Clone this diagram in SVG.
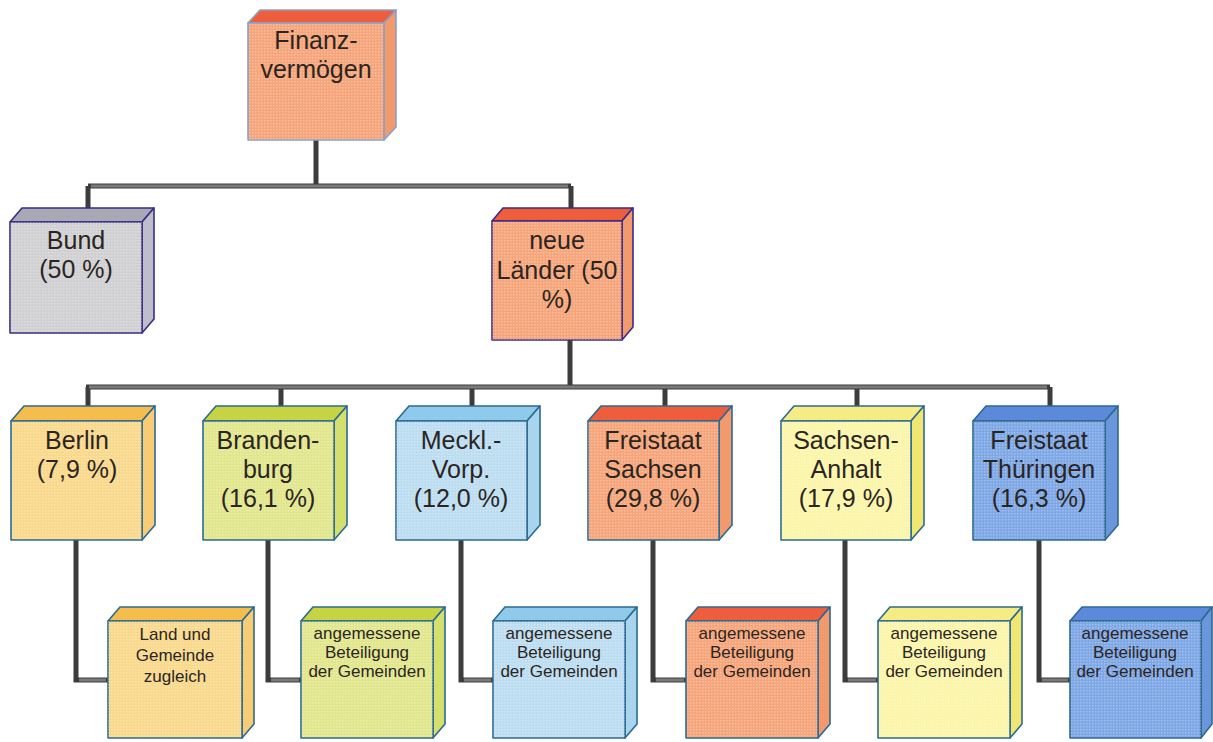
<svg xmlns="http://www.w3.org/2000/svg" width="1213" height="742" viewBox="0 0 1213 742">
<defs>
<pattern id="dots" width="3" height="3" patternUnits="userSpaceOnUse">
<rect x="0" y="0" width="1.5" height="1.5" fill="#ffffff" fill-opacity="0.28"/>
</pattern>
</defs>
<style>
text{font-family:"Liberation Sans",Arial,sans-serif;fill:#2b2522;text-anchor:middle}
.big{font-size:25px}
.small{font-size:17px}
.edge{stroke-width:1.6;stroke-linejoin:round}
.tex{fill:url(#dots);stroke:none}
.pipe{fill:none;stroke:#3c3c3c;stroke-width:5}
.core{fill:none;stroke:#7a7a7a;stroke-width:3}
.orange .f{fill:#F6A57A}.orange .t{fill:#EE5E3C}.orange .s{fill:#F29A6C}
.grey .f{fill:#D0D0D2}.grey .t{fill:#A9A9B6}.grey .s{fill:#BDBDCB}
.yellow .f{fill:#F9D88C}.yellow .t{fill:#F5BD4C}.yellow .s{fill:#F7CC74}
.green .f{fill:#E1E68C}.green .t{fill:#C6D444}.green .s{fill:#D5DF6E}
.blue .f{fill:#BCDDF1}.blue .t{fill:#8FCAEB}.blue .s{fill:#A9D4EE}
.lemon .f{fill:#FBF5AA}.lemon .t{fill:#F5EC84}.lemon .s{fill:#F2E672}
.royal .f{fill:#7EA7E6}.royal .t{fill:#5C89D9}.royal .s{fill:#6C96DC}
.pur .edge{stroke:#3b2d86}
.teal .edge{stroke:#2c6a92}
.lite .edge{stroke:#8aa0c8}
</style>

<g id="connectors">
<path class="pipe" d="M316 140 V186 M88 186 H571 M88 186 V208 M571 186 V208"/>
<path class="core" d="M91 186 H568"/>
<path class="pipe" d="M570 340 V387 M86 387 H1050 M88 387 V406 M281 387 V406 M472 387 V406 M665 387 V406 M857 387 V406 M1050 387 V406"/>
<path class="core" d="M89 387 H1047"/>
<path class="pipe" d="M76 540 V680 H108 M268 540 V680 H301 M461 540 V680 H493 M653 540 V680 H686 M845 540 V680 H878 M1039 540 V680 H1070"/>
<path class="core" d="M79 680 H106 M271 680 H299 M464 680 H491 M656 680 H684 M848 680 H876 M1042 680 H1068"/>
</g>

<g id="n-finanz" class="orange lite">
<polygon class="t edge" points="248,23 260,10 396,10 384,23"/>
<polygon class="s edge" points="384,23 396,10 396,127 384,140"/>
<rect class="f edge" x="248" y="23" width="136" height="117"/>
<rect class="tex" x="248" y="23" width="136" height="117"/>
<text class="big" x="316" y="49">Finanz-</text>
<text class="big" x="316" y="78">vermögen</text>
</g>

<g id="n-bund" class="grey pur">
<polygon class="t edge" points="10,222 22,208 154,208 142,222"/>
<polygon class="s edge" points="142,222 154,208 154,319 142,333"/>
<rect class="f edge" x="10" y="222" width="132" height="111"/>
<rect class="tex" x="10" y="222" width="132" height="111"/>
<text class="big" x="76" y="249">Bund</text>
<text class="big" x="76" y="278">(50 %)</text>
</g>

<g id="n-neue" class="orange pur">
<polygon class="t edge" points="492,221 503,208 633,208 622,221"/>
<polygon class="s edge" points="622,221 633,208 633,327 622,340"/>
<rect class="f edge" x="492" y="221" width="130" height="119"/>
<rect class="tex" x="492" y="221" width="130" height="119"/>
<text class="big" x="557" y="249">neue</text>
<text class="big" x="557" y="279">Länder (50</text>
<text class="big" x="557" y="308">%)</text>
</g>

<g id="n-berlin" class="yellow teal">
<polygon class="t edge" points="11,421 24,406 155,406 142,421"/>
<polygon class="s edge" points="142,421 155,406 155,525 142,540"/>
<rect class="f edge" x="11" y="421" width="131" height="119"/>
<rect class="tex" x="11" y="421" width="131" height="119"/>
<text class="big" x="77" y="449">Berlin</text>
<text class="big" x="77" y="478">(7,9 %)</text>
</g>

<g id="n-brandenburg" class="green teal">
<polygon class="t edge" points="203,421 216,406 347,406 334,421"/>
<polygon class="s edge" points="334,421 347,406 347,525 334,540"/>
<rect class="f edge" x="203" y="421" width="131" height="119"/>
<rect class="tex" x="203" y="421" width="131" height="119"/>
<text class="big" x="268" y="449">Branden-</text>
<text class="big" x="268" y="478">burg</text>
<text class="big" x="268" y="507">(16,1 %)</text>
</g>

<g id="n-meckl" class="blue teal">
<polygon class="t edge" points="396,421 409,406 540,406 527,421"/>
<polygon class="s edge" points="527,421 540,406 540,525 527,540"/>
<rect class="f edge" x="396" y="421" width="131" height="119"/>
<rect class="tex" x="396" y="421" width="131" height="119"/>
<text class="big" x="461" y="449">Meckl.-</text>
<text class="big" x="461" y="478">Vorp.</text>
<text class="big" x="461" y="507">(12,0 %)</text>
</g>

<g id="n-sachsen" class="orange teal">
<polygon class="t edge" points="588,421 601,406 732,406 719,421"/>
<polygon class="s edge" points="719,421 732,406 732,525 719,540"/>
<rect class="f edge" x="588" y="421" width="131" height="119"/>
<rect class="tex" x="588" y="421" width="131" height="119"/>
<text class="big" x="653" y="449">Freistaat</text>
<text class="big" x="653" y="478">Sachsen</text>
<text class="big" x="653" y="507">(29,8 %)</text>
</g>

<g id="n-anhalt" class="lemon teal">
<polygon class="t edge" points="781,421 794,406 924,406 911,421"/>
<polygon class="s edge" points="911,421 924,406 924,525 911,540"/>
<rect class="f edge" x="781" y="421" width="130" height="119"/>
<rect class="tex" x="781" y="421" width="130" height="119"/>
<text class="big" x="846" y="449">Sachsen-</text>
<text class="big" x="846" y="478">Anhalt</text>
<text class="big" x="846" y="507">(17,9 %)</text>
</g>

<g id="n-thueringen" class="royal teal">
<polygon class="t edge" points="973,421 986,406 1118,406 1105,421"/>
<polygon class="s edge" points="1105,421 1118,406 1118,525 1105,540"/>
<rect class="f edge" x="973" y="421" width="132" height="119"/>
<rect class="tex" x="973" y="421" width="132" height="119"/>
<text class="big" x="1039" y="449">Freistaat</text>
<text class="big" x="1039" y="478">Thüringen</text>
<text class="big" x="1039" y="507">(16,3 %)</text>
</g>

<g id="n-berlin-sub" class="yellow teal">
<polygon class="t edge" points="108,621 120,607 254,607 242,621"/>
<polygon class="s edge" points="242,621 254,607 254,724 242,738"/>
<rect class="f edge" x="108" y="621" width="134" height="117"/>
<rect class="tex" x="108" y="621" width="134" height="117"/>
<text class="small" x="175" y="640">Land und</text>
<text class="small" x="175" y="661">Gemeinde</text>
<text class="small" x="175" y="682">zugleich</text>
</g>

<g id="n-brandenburg-sub" class="green teal">
<polygon class="t edge" points="301,621 313,607 445,607 433,621"/>
<polygon class="s edge" points="433,621 445,607 445,724 433,738"/>
<rect class="f edge" x="301" y="621" width="132" height="117"/>
<rect class="tex" x="301" y="621" width="132" height="117"/>
<text class="small" x="367" y="639">angemessene</text>
<text class="small" x="367" y="658">Beteiligung</text>
<text class="small" x="367" y="677">der Gemeinden</text>
</g>

<g id="n-meckl-sub" class="blue teal">
<polygon class="t edge" points="493,621 505,607 637,607 625,621"/>
<polygon class="s edge" points="625,621 637,607 637,724 625,738"/>
<rect class="f edge" x="493" y="621" width="132" height="117"/>
<rect class="tex" x="493" y="621" width="132" height="117"/>
<text class="small" x="559" y="639">angemessene</text>
<text class="small" x="559" y="658">Beteiligung</text>
<text class="small" x="559" y="677">der Gemeinden</text>
</g>

<g id="n-sachsen-sub" class="orange teal">
<polygon class="t edge" points="686,621 698,607 830,607 818,621"/>
<polygon class="s edge" points="818,621 830,607 830,724 818,738"/>
<rect class="f edge" x="686" y="621" width="132" height="117"/>
<rect class="tex" x="686" y="621" width="132" height="117"/>
<text class="small" x="752" y="639">angemessene</text>
<text class="small" x="752" y="658">Beteiligung</text>
<text class="small" x="752" y="677">der Gemeinden</text>
</g>

<g id="n-anhalt-sub" class="lemon teal">
<polygon class="t edge" points="878,621 890,607 1022,607 1010,621"/>
<polygon class="s edge" points="1010,621 1022,607 1022,724 1010,738"/>
<rect class="f edge" x="878" y="621" width="132" height="117"/>
<rect class="tex" x="878" y="621" width="132" height="117"/>
<text class="small" x="944" y="639">angemessene</text>
<text class="small" x="944" y="658">Beteiligung</text>
<text class="small" x="944" y="677">der Gemeinden</text>
</g>

<g id="n-thueringen-sub" class="royal teal">
<polygon class="t edge" points="1070,621 1082,607 1212,607 1201,621"/>
<polygon class="s edge" points="1201,621 1212,607 1212,724 1201,738"/>
<rect class="f edge" x="1070" y="621" width="131" height="117"/>
<rect class="tex" x="1070" y="621" width="131" height="117"/>
<text class="small" x="1135" y="639">angemessene</text>
<text class="small" x="1135" y="658">Beteiligung</text>
<text class="small" x="1135" y="677">der Gemeinden</text>
</g>
</svg>
